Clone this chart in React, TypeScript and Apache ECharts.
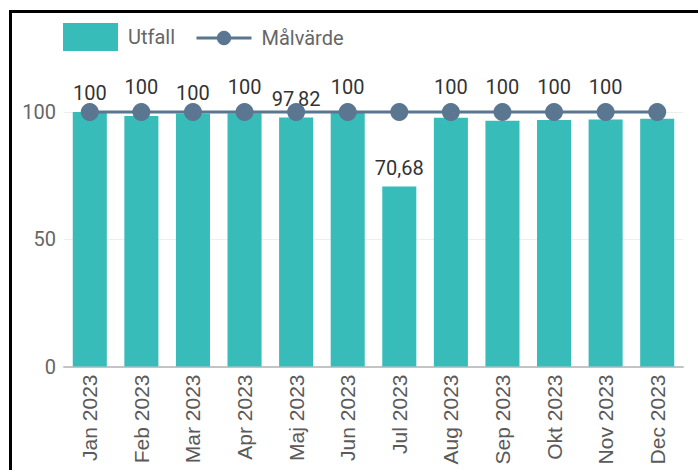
import React, { useEffect, useRef } from "react";
import * as echarts from "echarts";

const categories = [
  "Jan 2023", "Feb 2023", "Mar 2023", "Apr 2023", "Maj 2023", "Jun 2023",
  "Jul 2023", "Aug 2023", "Sep 2023", "Okt 2023", "Nov 2023", "Dec 2023",
];
const utfall = [100, 98.4, 99.4, 99.5, 97.82, 100, 70.68, 97.7, 96.6, 96.9, 97.1, 97.3];
const malvarde = [100, 100, 100, 100, 100, 100, 100, 100, 100, 100, 100, 100];
const yTicks = [0, 50, 100];
// which data labels are visible (as in the reference)
const showUtfallLabel = [false, false, false, false, true, false, true, false, false, false, false, false];
const showMalLabel = [true, true, true, true, false, true, false, true, true, true, true, false];
const lowMalLabel = [true, false, true, false, false, false, false, false, false, false, false, false];

const fmt = (v: number) => String(v).replace(".", ",");

export default function App() {
  const ref = useRef<HTMLDivElement>(null);
  useEffect(() => {
    if (!ref.current) return;
    const chart = echarts.init(ref.current, null, { renderer: "svg" });
    const font = "Roboto, 'Noto Sans', sans-serif";
    chart.setOption({
      animation: false,
      backgroundColor: "#ffffff",
      textStyle: { fontFamily: font },
      legend: [
        {
          data: [{ name: "Utfall", icon: "rect" }],
          left: 63,
          top: 23,
          padding: 0,
          itemWidth: 55,
          itemHeight: 28,
          textStyle: { fontSize: 20, color: "#666666", fontFamily: font, padding: [0, 0, 0, 5] },
        },
        {
          data: ["Målvärde"],
          left: 195,
          top: 28,
          padding: 0,
          itemWidth: 55,
          itemHeight: 18,
          lineStyle: { width: 3 },
          textStyle: { fontSize: 20, color: "#666666", fontFamily: font, padding: [0, 0, 0, 5] },
        },
      ],
      grid: { left: 64, right: 15, top: 112, bottom: 103.5, containLabel: false },
      xAxis: {
        type: "category",
        data: categories,
        axisTick: { show: false },
        axisLine: { lineStyle: { color: "#c4c4c4", width: 2 } },
        axisLabel: {
          rotate: 90,
          margin: 8,
          fontSize: 21,
          color: "#5a5a5a",
          fontFamily: "'Liberation Sans', Arial, sans-serif",
        },
      },
      yAxis: {
        type: "value",
        min: yTicks[0],
        max: yTicks[yTicks.length - 1],
        interval: 50,
        axisLine: { show: false },
        axisTick: { show: false },
        splitLine: { lineStyle: { color: "#eeeeee", width: 1 } },
        axisLabel: { fontSize: 20, color: "#666666", margin: 8, fontFamily: font },
      },
      series: [
        {
          name: "Utfall",
          type: "bar",
          barCategoryGap: "34%",
          itemStyle: { color: "#37bcb9" },
          data: utfall.map((v, i) => ({
            value: v,
            label: {
              show: showUtfallLabel[i],
              position: "top",
              distance: 9,
              fontSize: 20,
              color: "#333333",
              fontFamily: font,
              formatter: (p: any) => fmt(p.value),
            },
          })),
        },
        {
          name: "Målvärde",
          type: "line",
          clip: false,
          symbol: "circle",
          symbolSize: 18,
          z: 5,
          lineStyle: { color: "#5a7691", width: 3 },
          itemStyle: { color: "#5a7691" },
          data: malvarde.map((v, i) => ({
            value: v,
            label: {
              show: showMalLabel[i],
              position: "top",
              distance: lowMalLabel[i] ? 0 : 6,
              fontSize: 20,
              color: "#333333",
              fontFamily: font,
              formatter: (p: any) => fmt(p.value),
            },
          })),
        },
      ],
      graphic: [
        { type: "rect", shape: { x: 9, y: 10, width: 689, height: 3 }, style: { fill: "#000" }, z: 100 },
        { type: "rect", shape: { x: 9, y: 10, width: 3, height: 460 }, style: { fill: "#000" }, z: 100 },
      ],
    });
    return () => chart.dispose();
  }, []);
  return (
    <div
      ref={ref}
      style={{ position: "absolute", left: 0, top: 0, width: 698, height: 470 }}
    />
  );
}
